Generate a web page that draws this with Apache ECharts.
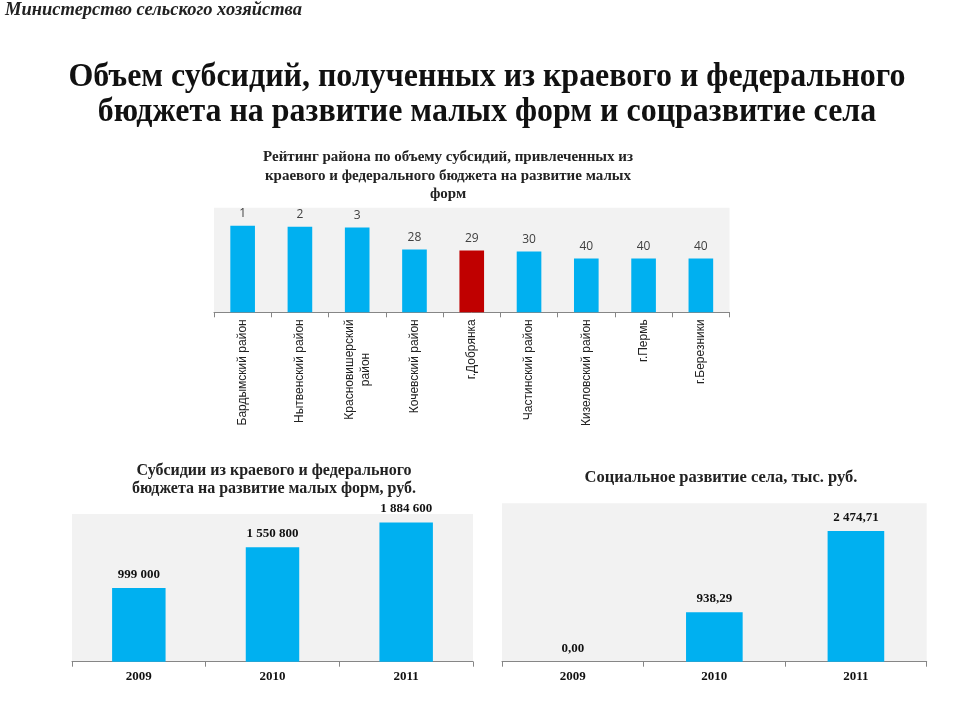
<!DOCTYPE html>
<html>
<head>
<meta charset="utf-8">
<script src="https://cdn.jsdelivr.net/npm/echarts@6/dist/echarts.min.js"></script>
<style>
html,body{margin:0;padding:0;background:#fff;}
#chart{width:960px;height:720px;}
</style>
</head>
<body>
<div id="chart"></div>
<script>
// ---- Data ----
const ratingCategories = ['Бардымский район','Нытвенский район','Красновишерский\nрайон','Кочевский район','г.Добрянка','Частинский район','Кизеловский район','г.Пермь','г.Березники'];
const ratingRanks = [1, 2, 3, 28, 29, 30, 40, 40, 40];
const ratingBarHeights = [87, 86, 85, 63, 62, 61, 54, 54, 54];
const highlightedDistrict = 'г.Добрянка';

const years = ['2009', '2010', '2011'];
const smallFormsSubsidies = [999000, 1550800, 1884600];
const socialDevelopment = [0.00, 938.29, 2474.71];

// ---- Helpers ----
function fmtInt(v){ return String(v).replace(/\B(?=(\d{3})+(?!\d))/g, ' '); }
function fmtDec(v){ const p = Number(v).toFixed(2).split('.'); return fmtInt(p[0]) + ',' + p[1]; }

const BLUE = '#00b0f0', RED = '#c00000', BG = '#f2f2f2', AXIS = '#868686';
const serif = '"Liberation Serif","Times New Roman",serif';
const sans = '"Liberation Sans",Arial,sans-serif';

// main heading: condensed bold serif, fit to the reference width
const mainLine1 = 'Объем субсидий, полученных из краевого и федерального';
const mainFont = 'bold 33px ' + serif;
const ctx = document.createElement('canvas').getContext('2d');
ctx.font = mainFont;
const mainScale = 837 / ctx.measureText(mainLine1).width;

const chart = echarts.init(document.getElementById('chart'));

const baseX = (gi, data, labelOpts) => ({
  type: 'category', gridIndex: gi, data: data,
  axisLine: { show: true, lineStyle: { color: AXIS, width: 1 } },
  axisTick: { show: true, length: 5, lineStyle: { color: AXIS } },
  axisLabel: Object.assign({ interval: 0 }, labelOpts),
  splitLine: { show: false }
});
const baseY = (gi, max) => ({ type: 'value', gridIndex: gi, min: 0, max: max, show: false, splitLine: { show: false } });

chart.setOption({
  animation: false,
  backgroundColor: '#fff',
  grid: [
    { left: 214, top: 207.7, width: 515.5, height: 104.6, show: true, backgroundColor: BG, borderWidth: 0 },
    { left: 72, top: 514, width: 401, height: 147.7, show: true, backgroundColor: BG, borderWidth: 0 },
    { left: 502, top: 503.3, width: 424.7, height: 158.4, show: true, backgroundColor: BG, borderWidth: 0 }
  ],
  xAxis: [
    baseX(0, ratingCategories, {
      rotate: 90, margin: 7, fontSize: 12, color: '#222', fontFamily: sans,
      formatter: v => v.split('\n').map(s => '{c|' + s + '}').join('\n'),
      rich: { c: { align: 'center', fontSize: 12, color: '#222', fontFamily: sans, lineHeight: 16 } }
    }),
    baseX(1, years, { margin: 8, fontSize: 13, fontWeight: 'bold', color: '#111', fontFamily: serif }),
    baseX(2, years, { margin: 8, fontSize: 13, fontWeight: 'bold', color: '#111', fontFamily: serif })
  ],
  yAxis: [ baseY(0, 105), baseY(1, 2000000), baseY(2, 3000) ],
  series: [
    {
      type: 'bar', xAxisIndex: 0, yAxisIndex: 0, barWidth: '43%',
      data: ratingBarHeights.map((v, i) => ({
        value: v,
        itemStyle: { color: ratingCategories[i] === highlightedDistrict ? RED : BLUE }
      })),
      label: {
        show: true, position: 'top', distance: 6, fontSize: 12, color: '#404040',
        fontFamily: '"Open Sans","Noto Sans",sans-serif',
        formatter: p => String(ratingRanks[p.dataIndex])
      }
    },
    {
      type: 'bar', xAxisIndex: 1, yAxisIndex: 1, barWidth: '40%',
      data: smallFormsSubsidies, itemStyle: { color: BLUE },
      label: { show: true, position: 'top', distance: 7, fontSize: 13, fontWeight: 'bold', color: '#111', fontFamily: serif,
        formatter: p => fmtInt(p.value) }
    },
    {
      type: 'bar', xAxisIndex: 2, yAxisIndex: 2, barWidth: '40%',
      data: socialDevelopment, itemStyle: { color: BLUE },
      label: { show: true, position: 'top', distance: 7, fontSize: 13, fontWeight: 'bold', color: '#111', fontFamily: serif,
        formatter: p => fmtDec(p.value) }
    }
  ],
  graphic: [
    { type: 'text', x: 5, y: 10, style: { text: 'Министерство сельского хозяйства', fill: '#222',
      font: 'italic bold 18.5px ' + serif, textAlign: 'left', textVerticalAlign: 'middle' } },
    { type: 'text', x: 487, y: 95, scaleX: mainScale, style: { text: mainLine1 + '\nбюджета на развитие малых форм и соцразвитие села',
      fill: '#111', font: mainFont, lineHeight: 35,
      textAlign: 'center', textVerticalAlign: 'middle' } },
    { type: 'text', x: 448, y: 176, style: { text: 'Рейтинг района по объему субсидий, привлеченных из\nкраевого и федерального бюджета на развитие малых\nформ',
      fill: '#222', font: 'bold 15px ' + serif, lineHeight: 18.5, textAlign: 'center', textVerticalAlign: 'middle' } },
    { type: 'text', x: 274, y: 480, style: { text: 'Субсидии из краевого и федерального\nбюджета на развитие малых форм, руб.',
      fill: '#222', font: 'bold 16px ' + serif, lineHeight: 18, textAlign: 'center', textVerticalAlign: 'middle' } },
    { type: 'text', x: 721, y: 478, style: { text: 'Социальное развитие села, тыс. руб.',
      fill: '#222', font: 'bold 16.5px ' + serif, textAlign: 'center', textVerticalAlign: 'middle' } }
  ]
});
</script>
</body>
</html>
